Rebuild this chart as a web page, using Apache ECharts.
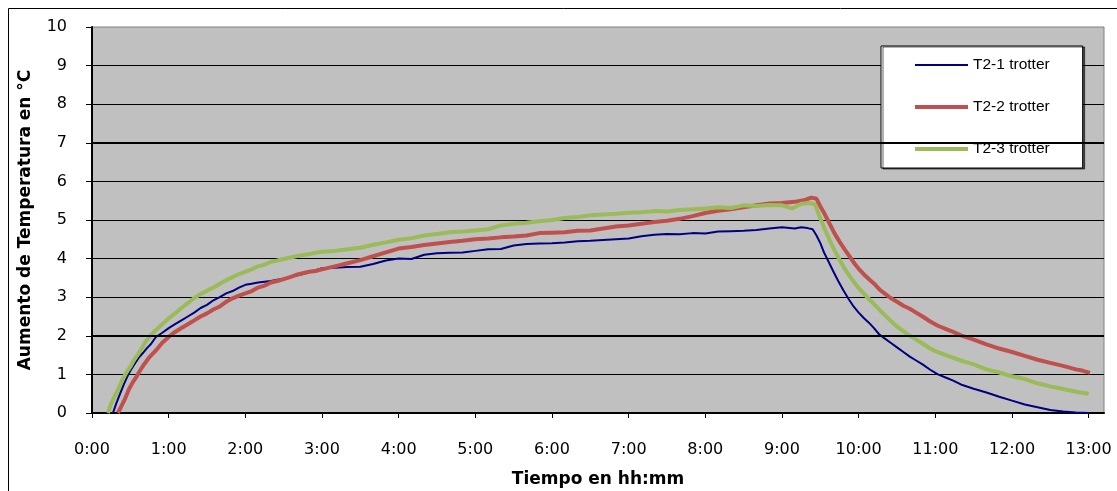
<!DOCTYPE html>
<html>
<head>
<meta charset="utf-8">
<script src="https://cdn.jsdelivr.net/npm/echarts@6/dist/echarts.min.js"></script>
<style>
html,body{margin:0;padding:0;background:#fff;}
#chart{width:1117px;height:491px;}
</style>
</head>
<body>
<div id="chart"></div>
<script>
// Minutes from 0:00 and temperature rise (°C)
const seriesNames = ['T2-1 trotter', 'T2-2 trotter', 'T2-3 trotter'];
const xTickMinutes = [0,60,120,180,240,300,360,420,480,540,600,660,720,780];
const xTickLabels = ['0:00','1:00','2:00','3:00','4:00','5:00','6:00','7:00','8:00','9:00','10:00','11:00','12:00','13:00'];
const yTicks = [0,1,2,3,4,5,6,7,8,9,10];
const boldGridValues = [2, 7];

const timeT21 = [16.4,19,22,25,28,31,34,37,40,43,46,50,55,60,65,70,75,80,85,90,95,100,105,110,115,120,125,130,135,140,145,150,155,160,165,170,175,180,190,200,210,220,230,240,250,260,270,280,290,300,310,320,330,340,350,360,370,380,390,400,410,420,430,440,450,460,470,480,490,500,510,520,530,540,550,555,560,564,567,570,573,576,580,584,588,592,596,600,604,608,612,616,620,625,630,635,640,645,650,656,662,668,674,680,690,700,710,720,730,740,750,760,770,780];
const tempT21 = [0,0.25,0.5,0.75,0.97,1.15,1.3,1.45,1.56,1.68,1.78,1.97,2.08,2.2,2.3,2.4,2.5,2.6,2.72,2.8,2.92,3.0,3.1,3.16,3.25,3.32,3.35,3.38,3.4,3.42,3.45,3.47,3.52,3.56,3.6,3.66,3.7,3.75,3.76,3.78,3.79,3.86,3.95,4.0,3.99,4.1,4.14,4.15,4.16,4.2,4.24,4.25,4.34,4.38,4.39,4.4,4.42,4.45,4.46,4.48,4.5,4.52,4.58,4.62,4.64,4.63,4.66,4.65,4.7,4.71,4.72,4.74,4.78,4.81,4.78,4.81,4.79,4.76,4.6,4.4,4.15,3.95,3.68,3.42,3.18,2.96,2.76,2.6,2.46,2.34,2.2,2.04,1.94,1.82,1.7,1.58,1.46,1.36,1.26,1.12,1.0,0.92,0.84,0.74,0.63,0.53,0.42,0.32,0.22,0.15,0.08,0.04,0.01,0];

const timeT22 = [20.3,23,26,29,32,35,38,41,45,50,55,60,65,70,75,80,85,90,95,100,105,110,115,120,125,130,135,140,145,150,155,160,165,170,175,180,190,200,210,220,230,240,250,260,270,280,290,300,310,320,330,340,350,360,370,380,390,400,410,420,430,440,450,460,470,480,490,500,510,520,530,540,550,558,563,567,570,573,577,581,585,589,593,597,601,605,609,613,617,621,625,630,635,640,645,650,656,662,668,674,680,690,700,710,720,730,740,750,760,770,775,781];
const tempT22 = [0,0.18,0.38,0.62,0.8,0.95,1.12,1.27,1.45,1.62,1.82,1.97,2.1,2.2,2.3,2.4,2.5,2.58,2.68,2.76,2.88,2.97,3.04,3.1,3.16,3.25,3.3,3.38,3.42,3.47,3.52,3.58,3.62,3.66,3.68,3.72,3.8,3.88,3.96,4.06,4.16,4.26,4.3,4.35,4.39,4.43,4.46,4.5,4.52,4.55,4.57,4.6,4.66,4.67,4.68,4.72,4.73,4.78,4.83,4.86,4.9,4.95,4.98,5.03,5.1,5.18,5.24,5.28,5.33,5.38,5.43,5.44,5.47,5.52,5.58,5.55,5.35,5.18,4.92,4.66,4.44,4.24,4.05,3.86,3.7,3.56,3.44,3.32,3.18,3.08,2.98,2.88,2.78,2.7,2.6,2.5,2.37,2.26,2.18,2.1,2.01,1.9,1.78,1.67,1.58,1.48,1.38,1.3,1.22,1.13,1.1,1.04];

const timeT23 = [12.5,15,18,21,24,27,30,33,36,39,42,45,50,55,60,65,70,75,80,85,90,95,100,105,110,115,120,125,130,135,140,145,150,160,170,180,190,200,210,220,230,240,250,260,270,280,290,300,310,320,330,340,350,360,370,380,390,400,410,420,430,440,450,460,470,480,490,500,510,520,530,540,548,555,562,566,569,573,577,581,585,589,593,597,601,605,609,613,617,621,625,630,635,640,645,650,655,660,670,680,690,700,710,720,730,740,750,760,770,780];
const tempT23 = [0,0.25,0.45,0.65,0.88,1.05,1.2,1.38,1.52,1.68,1.85,1.98,2.15,2.3,2.45,2.58,2.72,2.85,2.98,3.08,3.17,3.25,3.35,3.44,3.52,3.6,3.66,3.72,3.8,3.84,3.92,3.95,3.99,4.06,4.12,4.18,4.2,4.24,4.28,4.36,4.42,4.49,4.53,4.6,4.64,4.68,4.7,4.73,4.76,4.86,4.9,4.93,4.97,5.0,5.05,5.08,5.12,5.14,5.16,5.19,5.2,5.23,5.22,5.26,5.28,5.3,5.33,5.31,5.38,5.36,5.39,5.38,5.3,5.42,5.44,5.4,5.12,4.8,4.5,4.22,3.97,3.74,3.54,3.36,3.2,3.06,2.92,2.79,2.65,2.52,2.39,2.24,2.12,2.0,1.9,1.8,1.69,1.6,1.48,1.36,1.26,1.13,1.05,0.95,0.88,0.77,0.69,0.62,0.55,0.5];

const seriesColors = ['#000080', '#c0504d', '#9bbb59'];
const seriesWidths = [2, 4, 4];

const pairs = (t, v) => t.map((x, i) => [x, v[i]]);

const chart = echarts.init(document.getElementById('chart'), null, {renderer: 'canvas'});
const axisFont = {fontFamily: 'DejaVu Sans', fontSize: 16, color: '#000'};

chart.setOption({
  animation: false,
  backgroundColor: '#fff',
  graphic: [{
    type: 'rect', silent: true, z: 0,
    shape: {x: 8.5, y: 8.5, width: 1200, height: 600},
    style: {fill: 'none', stroke: '#000', lineWidth: 1}
  }],
  grid: {
    left: 92, right: 13, top: 27, bottom: 78,
    outerBoundsMode: 'none', containLabel: false,
    show: true, backgroundColor: '#c0c0c0', borderColor: '#808080', borderWidth: 1
  },
  legend: {
    data: seriesNames.map((n, i) => ({
      name: n,
      lineStyle: {color: seriesColors[i], width: seriesWidths[i]},
      itemStyle: {opacity: 0, color: 'rgba(0,0,0,0)', borderWidth: 0}
    })),
    orient: 'vertical',
    left: 881, top: 46,
    itemWidth: 53, itemHeight: 14, itemGap: 26,
    padding: [11, 33, 11, 32],
    backgroundColor: '#fff', borderColor: '#000', borderWidth: 1,
    shadowColor: 'rgba(0,0,0,0.6)', shadowOffsetX: 2, shadowOffsetY: 1, shadowBlur: 0,
    itemStyle: {opacity: 0, color: 'rgba(0,0,0,0)', borderWidth: 0},
    textStyle: {fontFamily: 'Liberation Sans', fontSize: 15.5, color: '#000'}
  },
  xAxis: {
    type: 'value', min: 0, max: 792, interval: 60,
    name: 'Tiempo en hh:mm', nameLocation: 'middle', nameGap: 58,
    nameTextStyle: {fontFamily: 'DejaVu Sans', fontWeight: 'bold', fontSize: 17, color: '#000'},
    axisLine: {show: true, onZero: false, lineStyle: {color: '#000', width: 2}},
    axisTick: {show: true, length: 5, customValues: xTickMinutes, lineStyle: {color: '#000', width: 1}},
    axisLabel: Object.assign({
      margin: 29,
      customValues: xTickMinutes,
      formatter: v => { const i = xTickMinutes.indexOf(v); return i >= 0 ? xTickLabels[i] : ''; }
    }, axisFont),
    splitLine: {show: false}
  },
  yAxis: {
    type: 'value', min: yTicks[0], max: yTicks[yTicks.length - 1], interval: 1,
    name: 'Aumento de Temperatura en °C', nameLocation: 'middle', nameGap: 58,
    nameTextStyle: {fontFamily: 'DejaVu Sans', fontWeight: 'bold', fontSize: 17, color: '#000'},
    axisLine: {show: true, lineStyle: {color: '#000', width: 2}},
    axisTick: {show: true, length: 6, lineStyle: {color: '#000', width: 1}},
    axisLabel: Object.assign({margin: 25}, axisFont),
    splitLine: {show: true, showMaxLine: false, lineStyle: {color: '#000', width: 1}}
  },
  series: [
    {
      name: 'grid-bold', type: 'line', data: [], z: 1, silent: true,
      markLine: {
        silent: true, symbol: 'none', label: {show: false},
        lineStyle: {color: '#000', width: 2, type: 'solid'},
        data: boldGridValues.map(v => ({yAxis: v}))
      }
    }
  ].concat(seriesNames.map((n, i) => ({
    name: n, type: 'line', symbol: 'none', z: 3,
    data: pairs([timeT21, timeT22, timeT23][i], [tempT21, tempT22, tempT23][i]),
    lineStyle: {color: seriesColors[i], width: seriesWidths[i]},
    itemStyle: {color: seriesColors[i]}
  })))
});
</script>
</body>
</html>
